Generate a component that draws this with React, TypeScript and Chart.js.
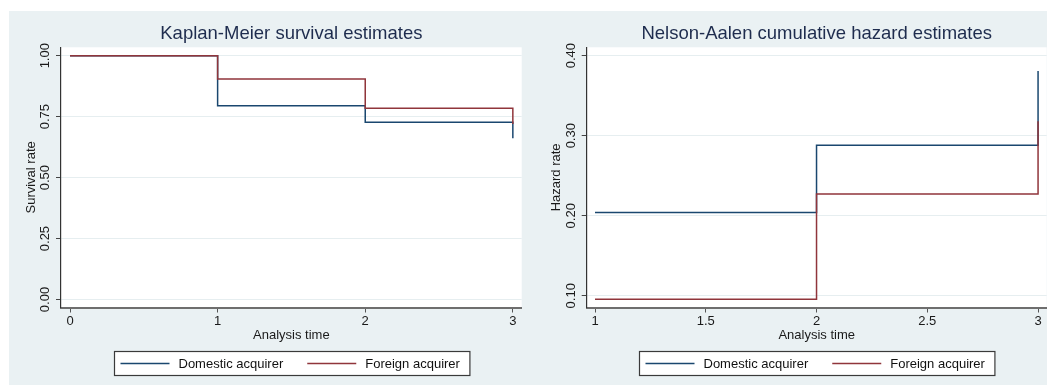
import React, { useEffect, useRef } from "react";
import { Chart, registerables } from "chart.js";
Chart.register(...registerables);

// ---------- data ----------
const seriesNames = ["Domestic acquirer", "Foreign acquirer"];
const seriesColors = ["#1a476f", "#90353b"];

const kmTimes = [0, 1, 2, 3];
const kmDomestic = [1.0, 0.795, 0.727, 0.661];
const kmForeign = [1.0, 0.904, 0.785, 0.72];
const kmXTicks = [0, 1, 2, 3];
const kmXLabels = ["0", "1", "2", "3"];
const kmYTicks = [0, 0.25, 0.5, 0.75, 1];
const kmYLabels = ["0.00", "0.25", "0.50", "0.75", "1.00"];

const naTimes = [1, 2, 3];
const naDomestic = [0.204, 0.288, 0.381];
const naForeign = [0.0955, 0.227, 0.318];
const naXTicks = [1, 1.5, 2, 2.5, 3];
const naXLabels = ["1", "1.5", "2", "2.5", "3"];
const naYTicks = [0.1, 0.2, 0.3, 0.4];
const naYLabels = ["0.10", "0.20", "0.30", "0.40"];

const FONT = "'Liberation Sans', Arial, Helvetica, sans-serif";
const BG = "#eaf1f3";
const CW = 519;
const CH = 374;

type PanelProps = {
  title: string;
  yTitle: string;
  times: number[];
  series: number[][];
  xTicks: number[];
  xLabels: string[];
  yTicks: number[];
  yLabels: string[];
  xMin: number;
  xMax: number;
  yMin: number;
  yMax: number;
  yAxisWidth: number;
  padRight: number;
};

function Panel(p: PanelProps) {
  const ref = useRef<HTMLCanvasElement | null>(null);
  useEffect(() => {
    if (!ref.current) return;
    const plugin = {
      id: "stataExtras",
      beforeDraw(chart: any) {
        const ctx = chart.ctx;
        const a = chart.chartArea;
        ctx.save();
        ctx.fillStyle = "#ffffff";
        ctx.fillRect(a.left, a.top, a.right - a.left, a.bottom - a.top);
        ctx.restore();
      },
      afterDraw(chart: any) {
        const ctx = chart.ctx;
        const ys = chart.scales.y;
        const area = chart.chartArea;
        ctx.save();
        // rotated y tick labels
        ctx.font = `13px ${FONT}`;
        ctx.fillStyle = "#1a1a1a";
        ctx.textAlign = "center";
        ctx.textBaseline = "middle";
        ys.ticks.forEach((t: any, i: number) => {
          const y = ys.getPixelForValue(t.value);
          ctx.save();
          ctx.translate(area.left - 15.5, y);
          ctx.rotate(-Math.PI / 2);
          ctx.fillText(p.yLabels[i], 0, 0);
          ctx.restore();
        });
        // legend box
        const ds = chart.data.datasets;
        const lineLen = 49;
        const gap = 9;
        const itemGap = 24;
        const padL = 6;
        const padR = 10;
        ctx.font = `13px ${FONT}`;
        const widths = ds.map((d: any) => ctx.measureText(d.label).width);
        let total = padL + padR + itemGap * (ds.length - 1);
        widths.forEach((w: number) => (total += lineLen + gap + w));
        const cx = (area.left + area.right) / 2;
        const bx = Math.round(cx - total / 2) + 0.5;
        const by = CH - 34 + 0.5;
        const bh = 24;
        ctx.fillStyle = "#ffffff";
        ctx.fillRect(bx, by, total, bh);
        ctx.strokeStyle = "#3a3a3a";
        ctx.lineWidth = 1.2;
        ctx.strokeRect(bx, by, total, bh);
        let x = bx + padL;
        const my = by + bh / 2;
        ds.forEach((d: any, i: number) => {
          ctx.strokeStyle = d.borderColor;
          ctx.lineWidth = 1.5;
          ctx.beginPath();
          ctx.moveTo(x, my);
          ctx.lineTo(x + lineLen, my);
          ctx.stroke();
          x += lineLen + gap;
          ctx.fillStyle = "#111";
          ctx.textAlign = "left";
          ctx.textBaseline = "middle";
          ctx.fillText(d.label, x, my + 0.5);
          x += widths[i] + itemGap;
        });
        ctx.restore();
      },
    };

    const chart = new Chart(ref.current, {
      type: "line",
      data: {
        datasets: p.series.map((vals, i) => ({
          label: seriesNames[i],
          data: p.times.map((t, j) => ({ x: t, y: vals[j] })),
          borderColor: seriesColors[i],
          backgroundColor: seriesColors[i],
          borderWidth: 1.5,
          pointRadius: 0,
          stepped: "before" as const,
          fill: false,
          order: i === 0 ? 1 : 0,
        })),
      },
      options: {
        animation: false,
        responsive: false,
        maintainAspectRatio: false,
        events: [],
        layout: { padding: { top: 0, left: 0, right: p.padRight, bottom: 40 } },
        plugins: {
          legend: { display: false },
          tooltip: { enabled: false },
          title: {
            display: true,
            text: p.title,
            fullSize: false,
            color: "#1e2c4e",
            font: { family: FONT, size: 18.5, weight: "normal" },
            padding: { top: 11.6, bottom: 2.5 },
          },
        },
        scales: {
          x: {
            type: "linear",
            min: p.xMin,
            max: p.xMax,
            afterBuildTicks: (s: any) => {
              s.ticks = p.xTicks.map((v) => ({ value: v }));
            },
            afterFit: (s: any) => {
              s.height = 37.5;
            },
            ticks: {
              callback: (_v: any, i: number) => p.xLabels[i],
              color: "#1a1a1a",
              font: { family: FONT, size: 13 },
              padding: 1,
              maxRotation: 0,
              autoSkip: false,
            },
            grid: {
              drawOnChartArea: false,
              drawTicks: true,
              tickLength: 5,
              tickColor: "#555",
              tickWidth: 1,
            },
            border: { display: true, color: "#6e6e6e", width: 2 },
            title: {
              display: true,
              text: "Analysis time",
              color: "#1a1a1a",
              font: { family: FONT, size: 13 },
              padding: { top: 0, bottom: 2.2 },
            },
          },
          y: {
            type: "linear",
            min: p.yMin,
            max: p.yMax,
            afterBuildTicks: (s: any) => {
              s.ticks = p.yTicks.map((v) => ({ value: v }));
            },
            afterFit: (s: any) => {
              s.width = p.yAxisWidth;
            },
            ticks: { display: false },
            grid: {
              color: "#e6eef0",
              lineWidth: 1,
              drawTicks: true,
              tickLength: 5,
              tickColor: "#444",
              tickWidth: 1,
            },
            border: { display: true, color: "#333", width: 1.2 },
            title: {
              display: true,
              text: p.yTitle,
              color: "#1a1a1a",
              font: { family: FONT, size: 13 },
              padding: { top: p.yAxisWidth - 30 - 7.8, bottom: 0 },
            },
          },
        },
      },
      plugins: [plugin],
    } as any);
    return () => chart.destroy();
  }, []);
  return <canvas ref={ref} width={CW} height={CH} style={{ display: "block", width: CW, height: CH }} />;
}

export default function App() {
  return (
    <div style={{ position: "absolute", left: 0, top: 0, width: 1056, height: 385, background: "#ffffff" }}>
      <div
        style={{
          position: "absolute",
          left: 9,
          top: 11,
          width: 1038,
          height: 374,
          background: BG,
          display: "flex",
        }}
      >
        <Panel
          title="Kaplan-Meier survival estimates"
          yTitle="Survival rate"
          times={kmTimes}
          series={[kmDomestic, kmForeign]}
          xTicks={kmXTicks}
          xLabels={kmXLabels}
          yTicks={kmYTicks}
          yLabels={kmYLabels}
          xMin={-0.061}
          xMax={3.06}
          yMin={-0.0328}
          yMax={1.0345}
          yAxisWidth={52}
          padRight={6.3}
        />
        <Panel
          title="Nelson-Aalen cumulative hazard estimates"
          yTitle="Hazard rate"
          times={naTimes}
          series={[naDomestic, naForeign]}
          xTicks={naXTicks}
          xLabels={naXLabels}
          yTicks={naYTicks}
          yLabels={naYLabels}
          xMin={0.9625}
          xMax={3.039}
          yMin={0.0853}
          yMax={0.4105}
          yAxisWidth={58.7}
          padRight={0.3}
        />
      </div>
    </div>
  );
}
